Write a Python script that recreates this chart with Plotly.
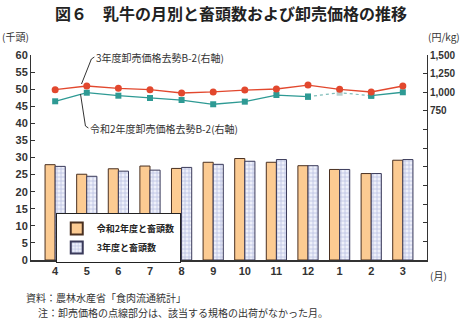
import plotly.graph_objects as go

months = ["4", "5", "6", "7", "8", "9", "10", "11", "12", "1", "2", "3"]
heads_r2 = [27.9, 25.1, 26.7, 27.5, 26.8, 28.6, 29.7, 28.6, 27.6, 26.5, 25.3, 29.2]
heads_r3 = [27.4, 24.5, 26.0, 26.3, 27.1, 28.0, 28.9, 29.4, 27.6, 26.5, 25.3, 29.4]
price_r3 = [1035, 1084, 1053, 1035, 990, 1004, 1030, 1044, 1097, 1040, 1004, 1084]
price_r2 = [879, 994, 954, 923, 896, 839, 874, 963, 941, None, 954, 1000]
gap_months = ["12", "1", "2"]
gap_values = [941, 994, 954]

left_ticks = list(range(0, 61, 5))
right_ticks = list(range(-1250, 1501, 250))
right_text = [f"{v:,}" if v >= 750 else "" for v in right_ticks]

FONT = "Noto Sans CJK JP"
TICKFONT = dict(family="Liberation Sans", size=11, color="#333", weight="bold")
RED = "#E2482E"
TEAL = "#2E9A94"

fig = go.Figure()
fig.add_trace(go.Bar(
    x=months, y=heads_r2, name="令和2年度と畜頭数",
    marker=dict(color="#FCCB92", line=dict(color="#4a3020", width=1)),
))
fig.add_trace(go.Bar(
    x=months, y=heads_r3, name="3年度と畜頭数",
    marker=dict(color="#E6E8F6", line=dict(color="#3a3a5a", width=1),
                pattern=dict(shape="+", fgcolor="#8790C8", bgcolor="#EEF0FA",
                             size=4, solidity=0.35)),
))
fig.add_trace(go.Scatter(
    x=gap_months, y=gap_values, yaxis="y2", mode="lines+markers", showlegend=False,
    line=dict(color="#7FBDB9", width=1.2, dash="dot"),
    marker=dict(symbol="square", size=6, color=[TEAL, "#B8CFCD", TEAL]),
))
fig.add_trace(go.Scatter(
    x=months, y=price_r2, yaxis="y2", mode="lines+markers", showlegend=False,
    line=dict(color=TEAL, width=1.3), marker=dict(symbol="square", size=6, color=TEAL),
    connectgaps=False,
))
fig.add_trace(go.Scatter(
    x=months, y=price_r3, yaxis="y2", mode="lines+markers", showlegend=False,
    line=dict(color=RED, width=1.3), marker=dict(symbol="circle", size=7, color=RED),
))

def px(xp):
    return (xp - 31) / 400

def py(yp):
    return (260 - yp) / 205

shapes = [
    dict(type="line", xref="paper", yref="paper", x0=px(82), y0=py(84), x1=px(92), y1=py(59),
         line=dict(color="#333", width=1)),
    dict(type="line", xref="paper", yref="paper", x0=px(92), y0=py(59), x1=px(95), y1=py(57),
         line=dict(color="#333", width=1)),
    dict(type="line", xref="paper", yref="paper", x0=px(81), y0=py(94), x1=px(86), y1=py(126),
         line=dict(color="#333", width=1)),
    dict(type="line", xref="paper", yref="paper", x0=px(86), y0=py(126), x1=px(89), y1=py(128),
         line=dict(color="#333", width=1)),
]

annotations = [
    dict(text="<b>図６　乳牛の月別と畜頭数および卸売価格の推移</b>", xref="paper", yref="paper",
         x=px(233), y=py(13), xanchor="center", yanchor="middle", showarrow=False,
         font=dict(family=FONT, size=16, color="#222")),
    dict(text="(千頭)", xref="paper", yref="paper", x=px(0), y=py(37), xanchor="left",
         yanchor="middle", showarrow=False, font=dict(family=FONT, size=10, color="#333")),
    dict(text="(円/kg)", xref="paper", yref="paper", x=px(466), y=py(37), xanchor="right",
         yanchor="middle", showarrow=False, font=dict(family=FONT, size=10, color="#333")),
    dict(text="(月)", xref="paper", yref="paper", x=px(432), y=py(275), xanchor="left",
         yanchor="middle", showarrow=False, font=dict(family=FONT, size=10, color="#333")),
    dict(text="3年度卸売価格去勢B-2(右軸)", xref="paper", yref="paper", x=px(95), y=py(57),
         xanchor="left", yanchor="middle", showarrow=False,
         font=dict(family=FONT, size=10, color="#333")),
    dict(text="令和2年度卸売価格去勢B-2(右軸)", xref="paper", yref="paper", x=px(89), y=py(128),
         xanchor="left", yanchor="middle", showarrow=False,
         font=dict(family=FONT, size=10, color="#333")),
    dict(text="資料：農林水産省「食肉流通統計」", xref="paper", yref="paper", x=px(24), y=py(297),
         xanchor="left", yanchor="middle", showarrow=False,
         font=dict(family=FONT, size=10, color="#333")),
    dict(text="注：卸売価格の点線部分は、該当する規格の出荷がなかった月。", xref="paper", yref="paper",
         x=px(36), y=py(312), xanchor="left", yanchor="middle", showarrow=False,
         font=dict(family=FONT, size=10, color="#333")),
]

fig.update_layout(
    width=467, height=322,
    margin=dict(l=31, r=36, t=55, b=62),
    paper_bgcolor="white", plot_bgcolor="white",
    barmode="group", bargap=0.36, bargroupgap=0.0,
    showlegend=True,
    legend=dict(x=px(56), y=py(213), xanchor="left", yanchor="top",
                bgcolor="white", bordercolor="#222", borderwidth=1,
                font=dict(family=FONT, size=9, color="#222", weight="bold"),
                itemsizing="constant", tracegroupgap=0, itemwidth=30),
    xaxis=dict(type="category", showline=True, linecolor="#333", linewidth=1.5,
               ticks="", tickfont=TICKFONT, showgrid=False, zeroline=False),
    yaxis=dict(range=[0, 60], tickvals=left_ticks, showline=True, linecolor="#333",
               linewidth=1, ticks="inside", ticklen=4, tickcolor="#333",
               tickfont=TICKFONT, showgrid=False, zeroline=False),
    yaxis2=dict(range=[-1250, 1500], tickvals=right_ticks, ticktext=right_text,
                overlaying="y", side="right", showline=True, linecolor="#333",
                linewidth=1, ticks="inside", ticklen=4, tickcolor="#333",
                tickfont=dict(family="Liberation Sans", size=10, color="#333", weight="bold"),
                showgrid=False, zeroline=False),
    shapes=shapes,
    annotations=annotations,
)

fig.write_html("out.html")
